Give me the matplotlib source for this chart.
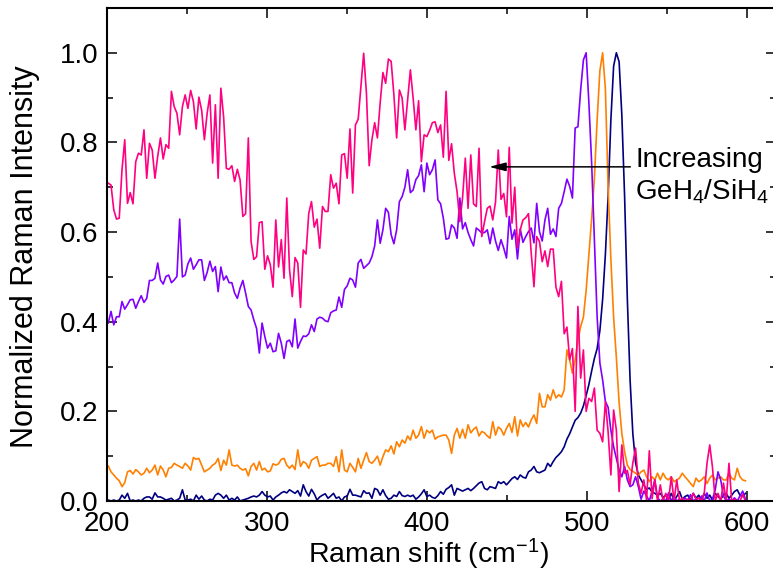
import numpy as np
import matplotlib
matplotlib.use('Agg')
import matplotlib.pyplot as plt
from matplotlib.ticker import MultipleLocator, FormatStrFormatter

# --- Spectra (normalized Raman intensity), uniform Raman shift sampling ---
shift_start = 200.8
shift_end = 598.9

# highest GeH4/SiH4 ratio (pink)
int_highest = [
    0.709, 0.705, 0.65, 0.629, 0.631, 0.739, 0.806, 0.664, 0.688, 0.663,
    0.757, 0.776, 0.772, 0.828, 0.72, 0.798, 0.783, 0.72, 0.769, 0.81,
    0.763, 0.795, 0.787, 0.914, 0.88, 0.865, 0.817, 0.88, 0.906, 0.876,
    0.916, 0.891, 0.83, 0.901, 0.872, 0.806, 0.865, 0.906, 0.754, 0.884,
    0.72, 0.921, 0.857, 0.742, 0.74, 0.748, 0.713, 0.74, 0.716, 0.635,
    0.641, 0.81, 0.579, 0.539, 0.545,
    0.621, 0.623, 0.517, 0.547, 0.527, 0.477, 0.627, 0.522, 0.583, 0.497,
    0.676, 0.516, 0.456, 0.543, 0.531, 0.432, 0.56, 0.551, 0.642, 0.668,
    0.611, 0.629, 0.564, 0.657, 0.646, 0.646, 0.728, 0.698, 0.709, 0.663,
    0.772, 0.775, 0.72, 0.83, 0.687, 0.839, 0.852, 0.925, 0.999, 0.91,
    0.748, 0.806, 0.844, 0.81, 0.888, 0.956, 0.932, 0.986, 0.981, 0.906,
    0.81, 0.917, 0.899, 0.828, 0.895, 0.962, 0.899, 0.828, 0.893,
    0.757, 0.817, 0.813, 0.827, 0.844, 0.846, 0.822, 0.839, 0.767, 0.914,
    0.76, 0.797, 0.731, 0.69, 0.623, 0.676, 0.765, 0.653, 0.772, 0.663,
    0.657, 0.787, 0.59, 0.623, 0.653, 0.658, 0.627, 0.667, 0.783, 0.673,
    0.686, 0.634, 0.789, 0.62, 0.7, 0.566, 0.605, 0.627, 0.632, 0.641,
    0.553, 0.478, 0.59, 0.579, 0.534, 0.558, 0.523, 0.562, 0.562, 0.477,
    0.456, 0.49, 0.373, 0.388, 0.315, 0.34, 0.2, 0.434, 0.274, 0.337,
    0.2, 0.229, 0.222, 0.252, 0.158,
    0.151, 0.132, 0.222, 0.154, 0.058, 0.203, 0.158, 0.021, 0.125, 0.062,
    0.068, 0.036, 0.085, 0.118, 0.04, 0.017, 0.047, 0.002, 0.112, 0.005,
    0.047, 0.0, 0.036, 0.0, 0.017, 0.0, 0.054, 0.0, 0.047, 0.0,
    0.007, 0.0, 0.004, 0.0, 0.017, 0.004, 0.007, 0.0, 0.017, 0.084,
    0.125, 0.075, 0.0, 0.017, 0.0, 0.04, 0.0, 0.084, 0.0, 0.004,
    0.0, 0.0, 0.014, 0.0,
]

# high ratio (violet)
int_high = [
    0.397, 0.423, 0.393, 0.411, 0.411, 0.445, 0.428, 0.438, 0.449, 0.45,
    0.43, 0.445, 0.458, 0.443, 0.452, 0.492, 0.492, 0.497, 0.531, 0.493,
    0.484, 0.501, 0.504, 0.487, 0.493, 0.501, 0.629, 0.5, 0.504, 0.529,
    0.542, 0.517, 0.527, 0.538, 0.538, 0.492, 0.51, 0.535, 0.512, 0.523,
    0.467, 0.522, 0.493, 0.502, 0.487, 0.487, 0.464, 0.452, 0.475, 0.492,
    0.464,
    0.434, 0.426, 0.404, 0.385, 0.33, 0.397, 0.367, 0.341, 0.352, 0.333,
    0.335, 0.374, 0.352, 0.318, 0.356, 0.359, 0.344, 0.406, 0.341, 0.356,
    0.368, 0.367, 0.373, 0.393, 0.378, 0.406, 0.41, 0.408, 0.402, 0.4,
    0.42, 0.424, 0.426, 0.455, 0.432, 0.472, 0.48, 0.497, 0.493, 0.477,
    0.531, 0.539, 0.519, 0.525, 0.531, 0.545, 0.569, 0.627, 0.575, 0.605,
    0.653, 0.644, 0.594, 0.574, 0.605, 0.668, 0.679, 0.7, 0.739, 0.688,
    0.694, 0.717, 0.726,
    0.75, 0.69, 0.754, 0.728, 0.739, 0.761, 0.672, 0.663, 0.631, 0.584,
    0.586, 0.616, 0.609, 0.586, 0.676, 0.607, 0.621, 0.599, 0.583, 0.569,
    0.609, 0.604, 0.598, 0.599, 0.605, 0.574, 0.609, 0.58, 0.559, 0.583,
    0.564, 0.542, 0.635, 0.584, 0.605, 0.54, 0.607, 0.577, 0.59, 0.601,
    0.609, 0.576, 0.664, 0.601, 0.58, 0.627, 0.653, 0.595, 0.607, 0.59,
    0.653, 0.664, 0.69, 0.718, 0.702, 0.676, 0.832, 0.835, 0.917, 0.984,
    1.0, 0.888, 0.754, 0.583, 0.411, 0.308,
    0.27, 0.222, 0.209, 0.158, 0.121, 0.095, 0.069, 0.054, 0.077, 0.047,
    0.032, 0.036, 0.054, 0.032, 0.004, 0.022, 0.011, 0.0, 0.022, 0.047,
    0.007, 0.0, 0.004, 0.0, 0.018, 0.0, 0.011, 0.0, 0.004, 0.0,
    0.007, 0.0, 0.014, 0.0, 0.004, 0.0, 0.011, 0.0, 0.018, 0.0,
    0.004, 0.025, 0.065, 0.047, 0.011, 0.0, 0.004, 0.0, 0.007, 0.0,
    0.011, 0.022, 0.004,
]

# low ratio (orange)
int_low = [
    0.078, 0.065, 0.058, 0.051, 0.045, 0.032, 0.041, 0.065, 0.068, 0.06,
    0.07, 0.065, 0.058, 0.062, 0.073, 0.063, 0.069, 0.08, 0.058, 0.078,
    0.069, 0.054, 0.073, 0.075, 0.084, 0.08, 0.077, 0.073, 0.084, 0.078,
    0.069, 0.097, 0.093, 0.095, 0.08, 0.065, 0.069, 0.073, 0.08, 0.084,
    0.095, 0.068, 0.091, 0.08, 0.114, 0.08, 0.078, 0.08, 0.073, 0.069,
    0.072, 0.056, 0.077, 0.084, 0.069, 0.088, 0.069, 0.073, 0.065, 0.067,
    0.083, 0.08, 0.083, 0.093, 0.095, 0.08, 0.073, 0.08, 0.07, 0.114,
    0.077, 0.088, 0.084, 0.073, 0.091, 0.095, 0.099, 0.077, 0.08, 0.08,
    0.084, 0.084, 0.077, 0.099, 0.065, 0.114, 0.069, 0.065, 0.084, 0.075,
    0.065, 0.095, 0.073, 0.091, 0.108, 0.088, 0.084, 0.091, 0.1, 0.08,
    0.099, 0.114, 0.11, 0.123, 0.105, 0.132, 0.121, 0.136, 0.129, 0.145,
    0.136, 0.158, 0.14, 0.147,
    0.166, 0.14, 0.158, 0.152, 0.158, 0.138, 0.143, 0.145, 0.147, 0.147,
    0.136, 0.106, 0.147, 0.162, 0.14, 0.16, 0.14, 0.17, 0.152, 0.16,
    0.165, 0.145, 0.155, 0.152, 0.145, 0.14, 0.177, 0.147, 0.165, 0.16,
    0.147, 0.162, 0.173, 0.153, 0.188, 0.145, 0.181, 0.166, 0.175, 0.165,
    0.181, 0.192, 0.173, 0.24, 0.21, 0.21, 0.237, 0.225, 0.248, 0.23,
    0.237, 0.232, 0.248, 0.337, 0.315, 0.285, 0.315, 0.359, 0.389,
    0.41, 0.47, 0.55, 0.63, 0.72, 0.85, 0.96, 1.0,
    0.92, 0.7, 0.54, 0.41, 0.32, 0.22, 0.15, 0.11, 0.08, 0.07,
    0.066, 0.062, 0.058, 0.065, 0.069, 0.054, 0.043, 0.054, 0.047, 0.062,
    0.047, 0.062, 0.051, 0.047, 0.054, 0.043, 0.047, 0.051, 0.062, 0.054,
    0.047, 0.039, 0.032, 0.051, 0.043, 0.047, 0.054, 0.039, 0.051, 0.058,
    0.047, 0.051, 0.054, 0.047, 0.047, 0.062, 0.051, 0.047, 0.073, 0.054,
    0.047, 0.045,
]

# lowest ratio (navy)
int_lowest = [
    0.002, 0.0, 0.002, 0.0, 0.002, 0.013, 0.006, 0.017, 0.0, 0.002,
    0.0, 0.002, 0.0, 0.006, 0.009, 0.009, 0.004, 0.018, 0.009, 0.009,
    0.006, 0.002, 0.004, 0.006, 0.0, 0.002, 0.006, 0.025, 0.002, 0.002,
    0.004, 0.0, 0.013, 0.004, 0.011, 0.002, 0.0, 0.004, 0.002, 0.013,
    0.017, 0.013, 0.006, 0.013, 0.002, 0.006, 0.002, 0.009, 0.0, 0.002,
    0.004, 0.006, 0.009, 0.011, 0.009, 0.013, 0.021, 0.013, 0.009, 0.011,
    0.002, 0.009, 0.013, 0.018, 0.021, 0.018, 0.025, 0.021, 0.017, 0.023,
    0.011, 0.036, 0.021, 0.011, 0.026, 0.016, 0.002, 0.009, 0.013, 0.016,
    0.006, 0.011, 0.017, 0.006, 0.009, 0.0, 0.009, 0.011, 0.026, 0.013,
    0.013, 0.011, 0.009, 0.023, 0.017, 0.018, 0.006, 0.028, 0.025, 0.013,
    0.025, 0.012, 0.004, 0.006, 0.013, 0.01, 0.021, 0.012, 0.01, 0.013,
    0.01, 0.013, 0.004, 0.009, 0.016, 0.025, 0.01, 0.013, 0.008, 0.006,
    0.012, 0.021, 0.015, 0.026, 0.03, 0.036, 0.013, 0.028, 0.025, 0.022,
    0.025, 0.028, 0.023, 0.028, 0.034, 0.04, 0.043, 0.028, 0.025, 0.032,
    0.03, 0.028, 0.043, 0.039, 0.043, 0.036, 0.043, 0.05, 0.054, 0.048,
    0.058, 0.053, 0.051, 0.065, 0.069, 0.077, 0.065, 0.063, 0.066, 0.069,
    0.084, 0.077, 0.088, 0.097, 0.103, 0.11, 0.121, 0.138, 0.15, 0.165,
    0.18, 0.186, 0.196,
    0.212, 0.235, 0.26, 0.29, 0.318, 0.34, 0.38, 0.45, 0.55, 0.68,
    0.85, 0.97, 1.0, 0.98, 0.86, 0.68, 0.45, 0.27, 0.15,
    0.085, 0.058, 0.047, 0.036, 0.026, 0.029, 0.02, 0.017, 0.013, 0.017,
    0.008, 0.013, 0.004, 0.017, 0.002, 0.01, 0.021, 0.004, 0.01, 0.013,
    0.002, 0.017, 0.006, 0.013, 0.002, 0.017, 0.006, 0.013, 0.002, 0.017,
    0.01, 0.004, 0.013, 0.017, 0.006, 0.013, 0.021, 0.025, 0.013, 0.01,
    0.017,
]

series = [
    (int_lowest, '#000080'),
    (int_low, '#FF8000'),
    (int_high, '#8000FF'),
    (int_highest, '#FF0080'),
]

# --- Style ---
plt.rcParams['font.family'] = ['Liberation Sans', 'DejaVu Sans']
plt.rcParams['mathtext.fontset'] = 'custom'
plt.rcParams['mathtext.rm'] = 'Liberation Sans'
plt.rcParams['mathtext.it'] = 'Liberation Sans:italic'
plt.rcParams['mathtext.default'] = 'regular'

fig = plt.figure(figsize=(7.73, 5.73), dpi=100)
ax = fig.add_axes([0.1384, 0.1257, 0.8655, 0.8604])

for vals, color in series:
    x = np.linspace(shift_start, shift_end, len(vals))
    ax.plot(x, vals, color=color, lw=1.2)

ax.set_xlim(200, 618)
ax.set_ylim(0, 1.1)

ax.xaxis.set_major_locator(MultipleLocator(100))
ax.xaxis.set_minor_locator(MultipleLocator(50))
ax.yaxis.set_major_locator(MultipleLocator(0.2))
ax.yaxis.set_minor_locator(MultipleLocator(0.1))
ax.yaxis.set_major_formatter(FormatStrFormatter('%.1f'))

ax.tick_params(which='both', direction='in', top=True, right=True, width=1.1)
ax.tick_params(which='major', length=7, labelsize=20)
ax.tick_params(axis='x', which='major', pad=7)
ax.tick_params(axis='y', which='major', pad=6)
ax.tick_params(which='minor', length=4)
for sp in ax.spines.values():
    sp.set_linewidth(1.5)

ax.set_xlabel('Raman shift (cm$^{-1}$)', fontsize=20.5)
ax.xaxis.set_label_coords(0.48, -0.072)
ax.set_ylabel('Normalized Raman Intensity', fontsize=22)
ax.yaxis.set_label_coords(-0.10, 0.495)

# arrow + annotation
ax.annotate('', xy=(438.75, 0.7455), xytext=(527, 0.7455),
            arrowprops=dict(arrowstyle='-|>,head_length=0.5,head_width=0.13',
                            color='black', lw=1.1, mutation_scale=20,
                            shrinkA=0, shrinkB=0), zorder=5)
ax.text(530, 0.7455, 'Increasing', fontsize=20, va='baseline', ha='left')
ax.text(530, 0.672, 'GeH$_4$/SiH$_4$', fontsize=20, va='baseline', ha='left')

fig.savefig('out.png', dpi=100)
